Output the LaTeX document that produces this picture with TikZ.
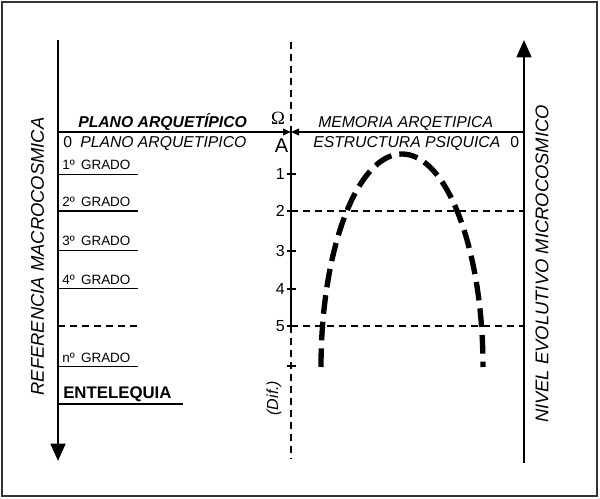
\documentclass[tikz,border=0pt]{standalone}
\usepackage{fontspec}
\setmainfont{Liberation Sans}
\newfontfamily\serifomega{Liberation Serif}
\usetikzlibrary{arrows.meta}

\begin{document}
\begin{tikzpicture}[x=0.75pt,y=0.75pt,yscale=-1,xscale=1,
	txt/.style={inner sep=0pt,anchor=base west},
	ital/.style={txt,font=\fontsize{11.8}{14}\selectfont\itshape},
	grado/.style={txt,font=\fontsize{10.1}{12}\selectfont},
	num/.style={inner sep=0pt,anchor=east,font=\fontsize{12}{14}\selectfont},
	vert/.style={rotate=90,inner sep=0pt,font=\fontsize{13.8}{16}\selectfont\itshape},
	bigarrow/.style={line width=2pt,-{Triangle[width=11pt,length=13pt]}},
	finarrow/.style={line width=1pt,-{Triangle[width=5pt,length=6pt]}},
	rule/.style={line width=0.9pt},
	guia/.style={line width=0.8pt,dash pattern=on 5.5pt off 3.5pt},
	curva/.style={line width=4pt,dash pattern=on 14pt off 6pt}]
	\useasboundingbox (0,0) rectangle (600,499);
	
	%Frame
	\draw[line width=1.6pt,black!80] (2,2) rectangle (597,496);
	
	%Axes
	\coordinate (refTop) at (58,40);
	\coordinate (refBot) at (58,461);
	\coordinate (nivBot) at (524,463);
	\coordinate (nivTop) at (524,40);
	\coordinate (ejeTop) at (291,42);
	\coordinate (ejeOmega) at (291,132);
	\coordinate (ejeCinco) at (291,326);
	\coordinate (ejeBot) at (291,459);
	\draw[bigarrow] (refTop) -- (refBot);
	\draw[bigarrow] (nivBot) -- (nivTop);
	\draw[finarrow] (refTop |- ejeOmega) -- (ejeOmega);
	\draw[finarrow] (nivTop |- ejeOmega) -- (ejeOmega);
	\draw[guia] (ejeTop) -- (ejeOmega);
	\draw[rule] (ejeOmega) -- (ejeCinco);
	\draw[guia] (ejeCinco) -- (ejeBot);
	\draw[rule] (287,366) -- (296,366);
	
	%Levels on the middle axis
	\foreach \n/\y in {1/174,2/211,3/251,4/289,5/326}{
		\draw[rule] (287,\y) -- (296,\y);
		\node[num] (niv\n) at (285,\y) {\n};
	}
	\draw[guia] (291,211) -- (nivTop |- 0,211);
	\draw[guia] (ejeCinco) -- (nivTop |- ejeCinco);
	
	%Grades
	\foreach \n/\y/\t in {1/170/1º,2/206.5/2º,3/246/3º,4/284/4º,n/362/nº}{
		\node[grado] (grado\n) at (62,\y) {\t\hspace{2pt} GRADO};
		\draw[rule] (refTop |- 0,\y+4.5) -- (138,\y+4.5);
	}
	\draw[guia] (refTop |- ejeCinco) -- (138,326);
	\node[txt,font=\fontsize{12.6}{15}\selectfont\bfseries] (entelequia) at (63,398) {ENTELEQUIA};
	\draw[rule] (refTop |- 0,404) -- (183,404);
	
	% Text Node
	\node[txt,font=\fontsize{11.8}{14}\selectfont\bfseries\itshape] (planoB) at (78,128) {PLANO ARQUETÍPICO};
	\node[txt,font=\fontsize{11.8}{14}\selectfont] (ceroL) at (63,148) {0};
	\node[ital] (planoR) at (80,148) {PLANO ARQUETIPICO};
	\node[ital] (memoria) at (318,128) {MEMORIA ARQETIPICA};
	\node[ital] (estructura) at (313,148) {ESTRUCTURA PSIQUICA};
	\node[txt,font=\fontsize{11.8}{14}\selectfont] (ceroR) at (510,148) {0};
	\node[inner sep=0pt,anchor=base,font=\fontsize{14}{16}\selectfont\serifomega] (omega) at (278,125) {Ω};
	\node[inner sep=0pt,anchor=base,font=\fontsize{15}{17}\selectfont] (alfa) at (281.5,153) {A};
	\node[vert] (macro) at (37.5,256.5) {REFERENCIA MACROCOSMICA};
	\node[vert] (micro) at (542,264) {NIVEL EVOLUTIVO MICROCOSMICO};
	\node[vert,font=\fontsize{12}{14}\selectfont\itshape] (dif) at (274,398) {(Dif.)};
	
	%Curve
	\draw[curva] (321,367) arc[start angle=180,end angle=360,x radius=81,y radius=213];
	
\end{tikzpicture}
\end{document}
